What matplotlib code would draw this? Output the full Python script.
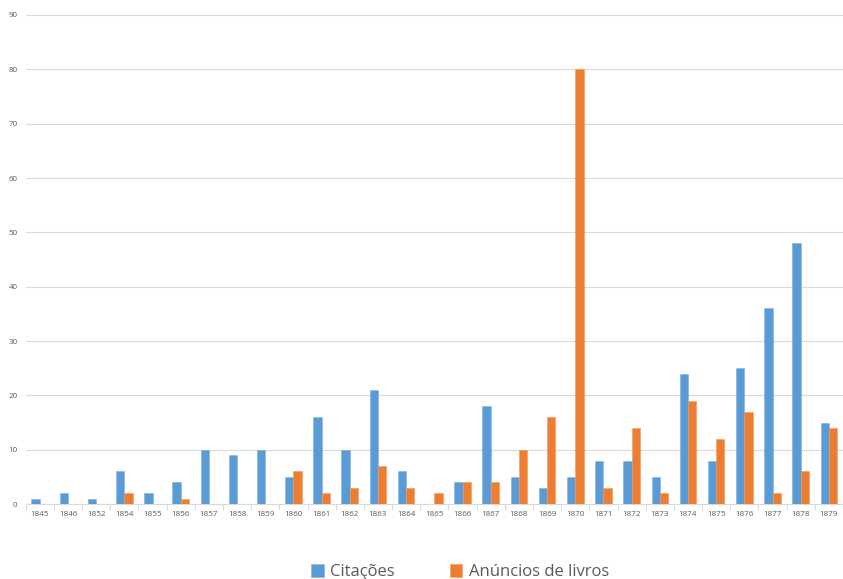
import matplotlib
matplotlib.use("Agg")
import matplotlib.pyplot as plt
import numpy as np

years = ["1845", "1846", "1852", "1854", "1855", "1856", "1857", "1858", "1859", "1860",
         "1861", "1862", "1863", "1864", "1865", "1866", "1867", "1868", "1869", "1870",
         "1871", "1872", "1873", "1874", "1875", "1876", "1877", "1878", "1879"]
citacoes = [1, 2, 1, 6, 2, 4, 10, 9, 10, 5, 16, 10, 21, 6, 0, 4, 18, 5, 3, 5,
            8, 8, 5, 24, 8, 25, 36, 48, 15]
anuncios = [0, 0, 0, 2, 0, 1, 0, 0, 0, 6, 2, 3, 7, 3, 2, 4, 4, 10, 16, 80,
            3, 14, 2, 19, 12, 17, 2, 6, 14]
yticks = list(range(0, 91, 10))

plt.rcParams['font.family'] = ['Open Sans', 'DejaVu Sans']

fig = plt.figure(figsize=(8.43, 5.79), dpi=100)
ax = fig.add_axes([0.0305, 0.1295, 0.9695, 0.8446])

x = np.arange(len(years))
w = 0.295
ax.bar(x - w/2, citacoes, width=w, color="#5B9BD5", edgecolor="#7FB2E0", linewidth=0.4,
       label="Citações", zorder=3)
ax.bar(x + w/2, anuncios, width=w, color="#ED7D31", edgecolor="#F29A60", linewidth=0.4,
       label="Anúncios de livros", zorder=3)

ax.set_xlim(-0.5, len(years) - 0.5)
ax.set_ylim(0, 90)
ax.set_yticks(yticks)
ax.set_yticklabels([str(v) for v in yticks], fontsize=5.8, color="#595959")
ax.set_xticks(x)
ax.set_xticklabels(years, fontsize=5.8, color="#595959")
ax.set_xticks(np.arange(len(years) + 1) - 0.5, minor=True)
ax.tick_params(axis="x", which="major", length=0, pad=5)
ax.tick_params(axis="x", which="minor", length=4, color="#D9D9D9", width=0.8)
ax.tick_params(axis="y", length=0, pad=6)

ax.grid(axis="y", color="#D9D9D9", linewidth=0.8, zorder=0)
for s in ["top", "right", "left"]:
    ax.spines[s].set_visible(False)
ax.spines["bottom"].set_color("#D9D9D9")
ax.spines["bottom"].set_linewidth(0.8)

fig.legend(loc="lower center", bbox_to_anchor=(0.546, -0.028), ncol=2, frameon=False,
           fontsize=12, handlelength=0.75, handleheight=0.75, handletextpad=0.4,
           columnspacing=3.3, labelcolor="#595959")

fig.savefig("out.png", dpi=100)
